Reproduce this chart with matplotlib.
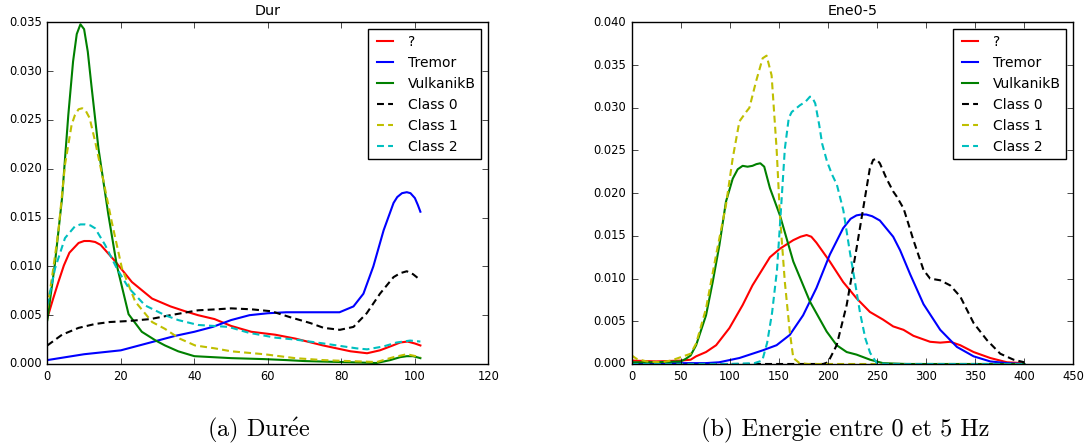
import matplotlib
matplotlib.use('Agg')
import matplotlib.pyplot as plt

# --- left panel: Dur ---
dur_unk_x = [0, 1.5, 3, 4.5, 6, 8.5, 10, 11.5, 13, 14.5, 18.5, 23, 28.5, 33.5, 37.5, 41, 45.5, 50, 55.5, 62, 67.5, 75, 82.5, 87, 90.5, 94, 96, 98, 100, 101.5]
dur_unk_y = [0.0047, 0.0066, 0.0084, 0.0101, 0.0114, 0.0124, 0.0126, 0.0126, 0.0125, 0.0122, 0.0105, 0.0084, 0.0067, 0.0059, 0.0054, 0.0050, 0.0046, 0.0039, 0.0033, 0.0030, 0.0026, 0.0019, 0.0013, 0.0011, 0.0014, 0.0019, 0.0022, 0.0023, 0.0021, 0.0019]

dur_tremor_x = [0, 5, 10, 15, 20, 25, 30, 35, 40, 45, 50, 55, 60, 65, 70, 75, 79.5, 83.3, 86, 88.7, 91.5, 94.2, 95.2, 96.5, 97.8, 98.8, 100, 100.8, 101.5]
dur_tremor_y = [0.0004, 0.0007, 0.0010, 0.0012, 0.0014, 0.0019, 0.0024, 0.0029, 0.0033, 0.0038, 0.0045, 0.0050, 0.0052, 0.0053, 0.0053, 0.0053, 0.0053, 0.0059, 0.0072, 0.0100, 0.0137, 0.0165, 0.0171, 0.0175, 0.0176, 0.0175, 0.0170, 0.0163, 0.0156]

dur_vulk_x = [0, 2, 4, 5.7, 7, 8, 9, 10, 11, 12, 13.9, 16.6, 18.9, 22.1, 25.7, 29.5, 32, 35.6, 40, 50, 59, 65, 70, 80, 89.6, 93.3, 96, 97.8, 99.5, 101.5]
dur_vulk_y = [0.0045, 0.0101, 0.0170, 0.0255, 0.0310, 0.0338, 0.0348, 0.0343, 0.0320, 0.0285, 0.0221, 0.0153, 0.0101, 0.0051, 0.0033, 0.0024, 0.0019, 0.0013, 0.0008, 0.0006, 0.0005, 0.0004, 0.0003, 0.0002, 0.0001, 0.0004, 0.0007, 0.0008, 0.0008, 0.0006]

dur_c0_x = [0, 4, 8.5, 13, 17, 22, 28, 33.5, 38, 41, 46, 50, 55.6, 61, 66, 71.5, 75.2, 79.6, 83.3, 86.9, 90.5, 94.2, 96, 97.8, 99.5, 101.5]
dur_c0_y = [0.0019, 0.0030, 0.0037, 0.0041, 0.0043, 0.0044, 0.0046, 0.0050, 0.0053, 0.0055, 0.0056, 0.0057, 0.0056, 0.0054, 0.0048, 0.0042, 0.0037, 0.0035, 0.0038, 0.0052, 0.0072, 0.0089, 0.0093, 0.0095, 0.0092, 0.0086]

dur_c1_x = [0, 1.5, 3, 4.8, 6.6, 7.5, 8.5, 9.5, 10.5, 11.5, 13, 15.3, 17.5, 20.3, 23.9, 28.5, 32, 36, 40.2, 45.6, 50, 59, 67.4, 75, 82, 89.6, 94.2, 97.8, 101.5]
dur_c1_y = [0.0057, 0.0095, 0.0136, 0.0204, 0.0245, 0.0255, 0.0261, 0.0262, 0.0259, 0.0252, 0.0228, 0.0187, 0.0146, 0.0098, 0.0064, 0.0043, 0.0036, 0.0026, 0.0019, 0.0016, 0.0013, 0.0010, 0.0006, 0.0004, 0.0003, 0.0002, 0.0007, 0.0010, 0.0007]

dur_c2_x = [0, 2.1, 4.8, 7.5, 9, 10.3, 11.7, 13, 15.7, 18.9, 22.1, 26.6, 32, 35.6, 41, 49.3, 54.8, 62, 67.5, 75.2, 84.2, 87, 91.5, 95, 98.7, 101.5]
dur_c2_y = [0.0060, 0.0098, 0.0129, 0.0141, 0.0143, 0.0143, 0.0142, 0.0139, 0.0122, 0.0098, 0.0078, 0.0060, 0.0050, 0.0045, 0.0040, 0.0038, 0.0032, 0.0027, 0.0025, 0.0021, 0.0016, 0.0015, 0.0018, 0.0022, 0.0024, 0.0023]

# --- right panel: Ene0-5 ---
ene_unk_x = [0, 25, 50, 60, 65.6, 75.7, 86, 99.5, 113, 123, 130, 140.8, 151, 164.6, 172, 178.2, 183, 188.2, 201.8, 215.4, 229, 242.6, 256, 266.4, 276.9, 287, 304, 314.3, 324.5, 334.7, 348.3, 365.3, 382.3, 399]
ene_unk_y = [0.0004, 0.0003, 0.0004, 0.0005, 0.0009, 0.0014, 0.0022, 0.0042, 0.0069, 0.0092, 0.0105, 0.0125, 0.0135, 0.0145, 0.0149, 0.0151, 0.0149, 0.0142, 0.0120, 0.0096, 0.0077, 0.0061, 0.0052, 0.0044, 0.0040, 0.0033, 0.0026, 0.0025, 0.0026, 0.0022, 0.0014, 0.0007, 0.0002, 0.0001]

ene_tremor_x = [0, 50, 75, 89, 109.7, 133.5, 147.6, 161, 174.6, 188.2, 201.8, 215.4, 223, 229, 234, 239, 245, 252.8, 266.4, 273.5, 283.7, 297.3, 314.3, 331.3, 348.3, 365.3, 382.3, 400]
ene_tremor_y = [0.0001, 0.0001, 0.0001, 0.0002, 0.0007, 0.0016, 0.0022, 0.0034, 0.0057, 0.0089, 0.0128, 0.0159, 0.0170, 0.0174, 0.0175, 0.0175, 0.0173, 0.0168, 0.0149, 0.0133, 0.0105, 0.0070, 0.0040, 0.0020, 0.0009, 0.0003, 0.0001, 0.0000]

ene_vulk_x = [0, 25, 50, 55, 60, 65.6, 75.7, 82.5, 89.3, 96, 102.9, 108, 113, 118, 123, 127, 131, 135, 140.8, 151, 164.6, 181.6, 198.6, 208.8, 219, 229, 242.9, 256, 280, 320, 400]
ene_vulk_y = [0.0002, 0.0002, 0.0003, 0.0006, 0.0010, 0.0022, 0.0057, 0.0096, 0.0139, 0.0190, 0.0217, 0.0228, 0.0232, 0.0231, 0.0232, 0.0234, 0.0235, 0.0231, 0.0206, 0.0174, 0.0120, 0.0073, 0.0038, 0.0022, 0.0014, 0.0011, 0.0005, 0.0001, 0, 0, 0]

ene_c0_x = [0, 150, 195, 200, 208.8, 219, 229, 235.8, 242.6, 246, 249, 252.8, 259.6, 266.4, 270, 277, 283, 287, 297.3, 304, 314.3, 324.5, 334.7, 348.3, 361.9, 375.5, 389.1, 400]
ene_c0_y = [0, 0, 0, 0.0002, 0.0022, 0.0069, 0.0135, 0.0182, 0.0229, 0.0239, 0.0240, 0.0235, 0.0217, 0.0202, 0.0196, 0.0182, 0.0160, 0.0145, 0.0110, 0.0100, 0.0098, 0.0092, 0.0079, 0.0048, 0.0028, 0.0012, 0.0005, 0.0002]

ene_c1_x = [0, 5, 15, 30, 40, 50, 60, 65.6, 75.7, 86, 96, 102.9, 109.7, 116.5, 119.9, 126.7, 133.4, 137.4, 142.5, 147.6, 151, 156, 161, 164.6, 171, 180, 250, 400]
ene_c1_y = [0.0010, 0.0006, 0.0003, 0.0002, 0.0004, 0.0008, 0.0012, 0.0024, 0.0065, 0.0128, 0.0186, 0.0241, 0.0284, 0.0295, 0.0300, 0.0331, 0.0358, 0.0361, 0.0338, 0.0252, 0.0174, 0.0096, 0.0038, 0.0007, 0.0001, 0, 0, 0]

ene_c2_x = [0, 100, 125, 133, 138, 143, 148, 152, 156, 160, 163, 171.5, 177, 181.6, 184, 187, 191, 194, 199, 204, 209, 215.6, 222.4, 227.6, 232.6, 238, 242.9, 249.7, 260, 400]
ene_c2_y = [0, 0, 0.0001, 0.0004, 0.0025, 0.0060, 0.0110, 0.0180, 0.0252, 0.0288, 0.0295, 0.0303, 0.0307, 0.0313, 0.0312, 0.0305, 0.0280, 0.0258, 0.0237, 0.0222, 0.0210, 0.0180, 0.0130, 0.0095, 0.0060, 0.0030, 0.0013, 0.0001, 0, 0]

labels = ['?', 'Tremor', 'VulkanikB', 'Class 0', 'Class 1', 'Class 2']
colors = ['r', 'b', 'g', 'k', 'y', 'c']


def draw_panel(ax, series, title, xlim, ylim, xticks, yticks):
    for i, (x, y) in enumerate(series):
        if i < 3:
            ax.plot(x, y, color=colors[i], lw=1.5, label=labels[i])
        else:
            ax.plot(x, y, color=colors[i], lw=1.5, ls='--', dashes=(5, 3), label=labels[i])
    ax.set_title(title)
    ax.set_xlim(*xlim)
    ax.set_ylim(*ylim)
    ax.set_xticks(xticks)
    ax.set_yticks(yticks)
    ax.yaxis.set_major_formatter(matplotlib.ticker.FormatStrFormatter('%.3f'))
    ax.legend(loc='upper right', handlelength=1.7, fontsize=10)


plt.style.use('classic')
plt.rcParams['font.size'] = 8.3
plt.rcParams['axes.titlesize'] = 10.3
plt.rcParams['mathtext.fontset'] = 'cm'

fig = plt.figure(figsize=(10.86, 4.47), dpi=100, facecolor='white')
ax1 = fig.add_axes([0.0436, 0.1857, 0.4061, 0.7643])
ax2 = fig.add_axes([0.5817, 0.1857, 0.4067, 0.7643])

draw_panel(ax1, [(dur_unk_x, dur_unk_y), (dur_tremor_x, dur_tremor_y), (dur_vulk_x, dur_vulk_y),
                 (dur_c0_x, dur_c0_y), (dur_c1_x, dur_c1_y), (dur_c2_x, dur_c2_y)],
           'Dur', (0, 120), (0, 0.035), range(0, 121, 20), [i * 0.005 for i in range(8)])
draw_panel(ax2, [(ene_unk_x, ene_unk_y), (ene_tremor_x, ene_tremor_y), (ene_vulk_x, ene_vulk_y),
                 (ene_c0_x, ene_c0_y), (ene_c1_x, ene_c1_y), (ene_c2_x, ene_c2_y)],
           'Ene0-5', (0, 450), (0, 0.04), range(0, 451, 50), [i * 0.005 for i in range(9)])

# captions under each panel (computer modern look)
cap_font = ['cmr10', 'DejaVu Serif']
fig.text(0.2385, 0.036, r'(a) Dur$\mathrm{\acute{e}}$e', ha='center', va='center', fontsize=17.5, family=cap_font)
fig.text(0.778, 0.036, '(b) Energie entre 0 et 5 Hz', ha='center', va='center', fontsize=17.5, family=cap_font)

fig.savefig('out.png', dpi=100, facecolor='white')
